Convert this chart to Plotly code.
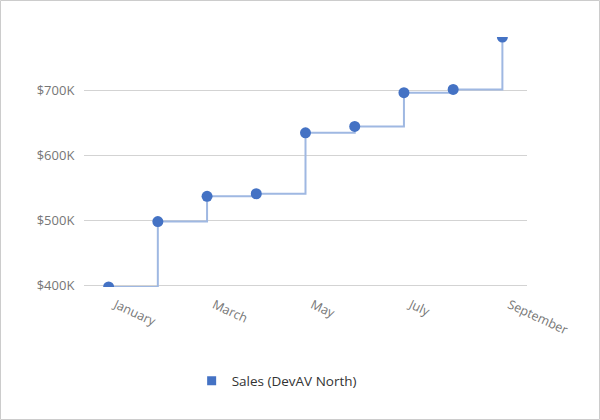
import plotly.graph_objects as go

# 月份與銷售額（千美元）
months = ["January", "February", "March", "April", "May",
          "June", "July", "August", "September"]
sales_k = [397, 498, 537, 541, 635, 645, 697, 702, 783]
month_ticks = ["January", "March", "May", "July", "September"]
y_ticks = [400, 500, 600, 700]
y_tick_text = [f'${v}K' for v in y_ticks]

W, H = 600, 420
M_L, M_R, M_T, M_B = 84, 73, 37, 133
PW, PH = W - M_L - M_R, H - M_T - M_B

fig = go.Figure()

fig.add_trace(go.Scatter(
    x=months,
    y=sales_k,
    mode='lines+markers',
    line=dict(shape='hv', color='#9fb8e2', width=2),
    marker=dict(color='#4472c4', size=11),
    showlegend=False,
))

# 圖例用方形標記
fig.add_trace(go.Scatter(
    x=[None], y=[None],
    mode='markers',
    name='Sales (DevAV North)',
    marker=dict(color='#4472c4', size=9, symbol='square'),
))

fig.update_layout(
    width=W, height=H,
    margin=dict(l=M_L, r=M_R, t=M_T, b=M_B),
    paper_bgcolor='white',
    plot_bgcolor='white',
    font=dict(family='Open Sans, Noto Sans, sans-serif', size=12, color='#767676'),
    legend=dict(
        orientation='h',
        x=0.243, xanchor='left',
        y=-0.376, yanchor='middle',
        font=dict(color='#333333', size=13.5),
        bgcolor='rgba(0,0,0,0)',
    ),
    shapes=[dict(
        type='rect', xref='paper', yref='paper',
        x0=(0.5 - M_L) / PW, x1=(W - 0.5 - M_L) / PW,
        y0=(PH + M_T - (H - 0.5)) / PH, y1=(PH + M_T - 0.5) / PH,
        line=dict(color='#cccccc', width=1),
    )],
)

fig.update_xaxes(
    type='category',
    range=[-0.5, 8.5],
    tickvals=month_ticks,
    tickangle=25,
    ticklabelshift=7,
    showgrid=False,
    showline=False,
    zeroline=False,
    ticks='outside',
    ticklen=5,
    tickcolor='rgba(0,0,0,0)',
    tickfont=dict(color='#767676', size=12.5),
)

fig.update_yaxes(
    range=[sales_k[0], sales_k[-1]],
    tickvals=y_ticks,
    ticktext=y_tick_text,
    showgrid=True,
    gridcolor='#d3d3d3',
    gridwidth=1,
    zeroline=False,
    showline=False,
    ticks='outside',
    ticklen=6,
    tickcolor='rgba(0,0,0,0)',
    tickfont=dict(color='#767676', size=13),
)

fig.write_html("out.html", config={'displayModeBar': False},
               post_script="document.body.style.margin='0';")
